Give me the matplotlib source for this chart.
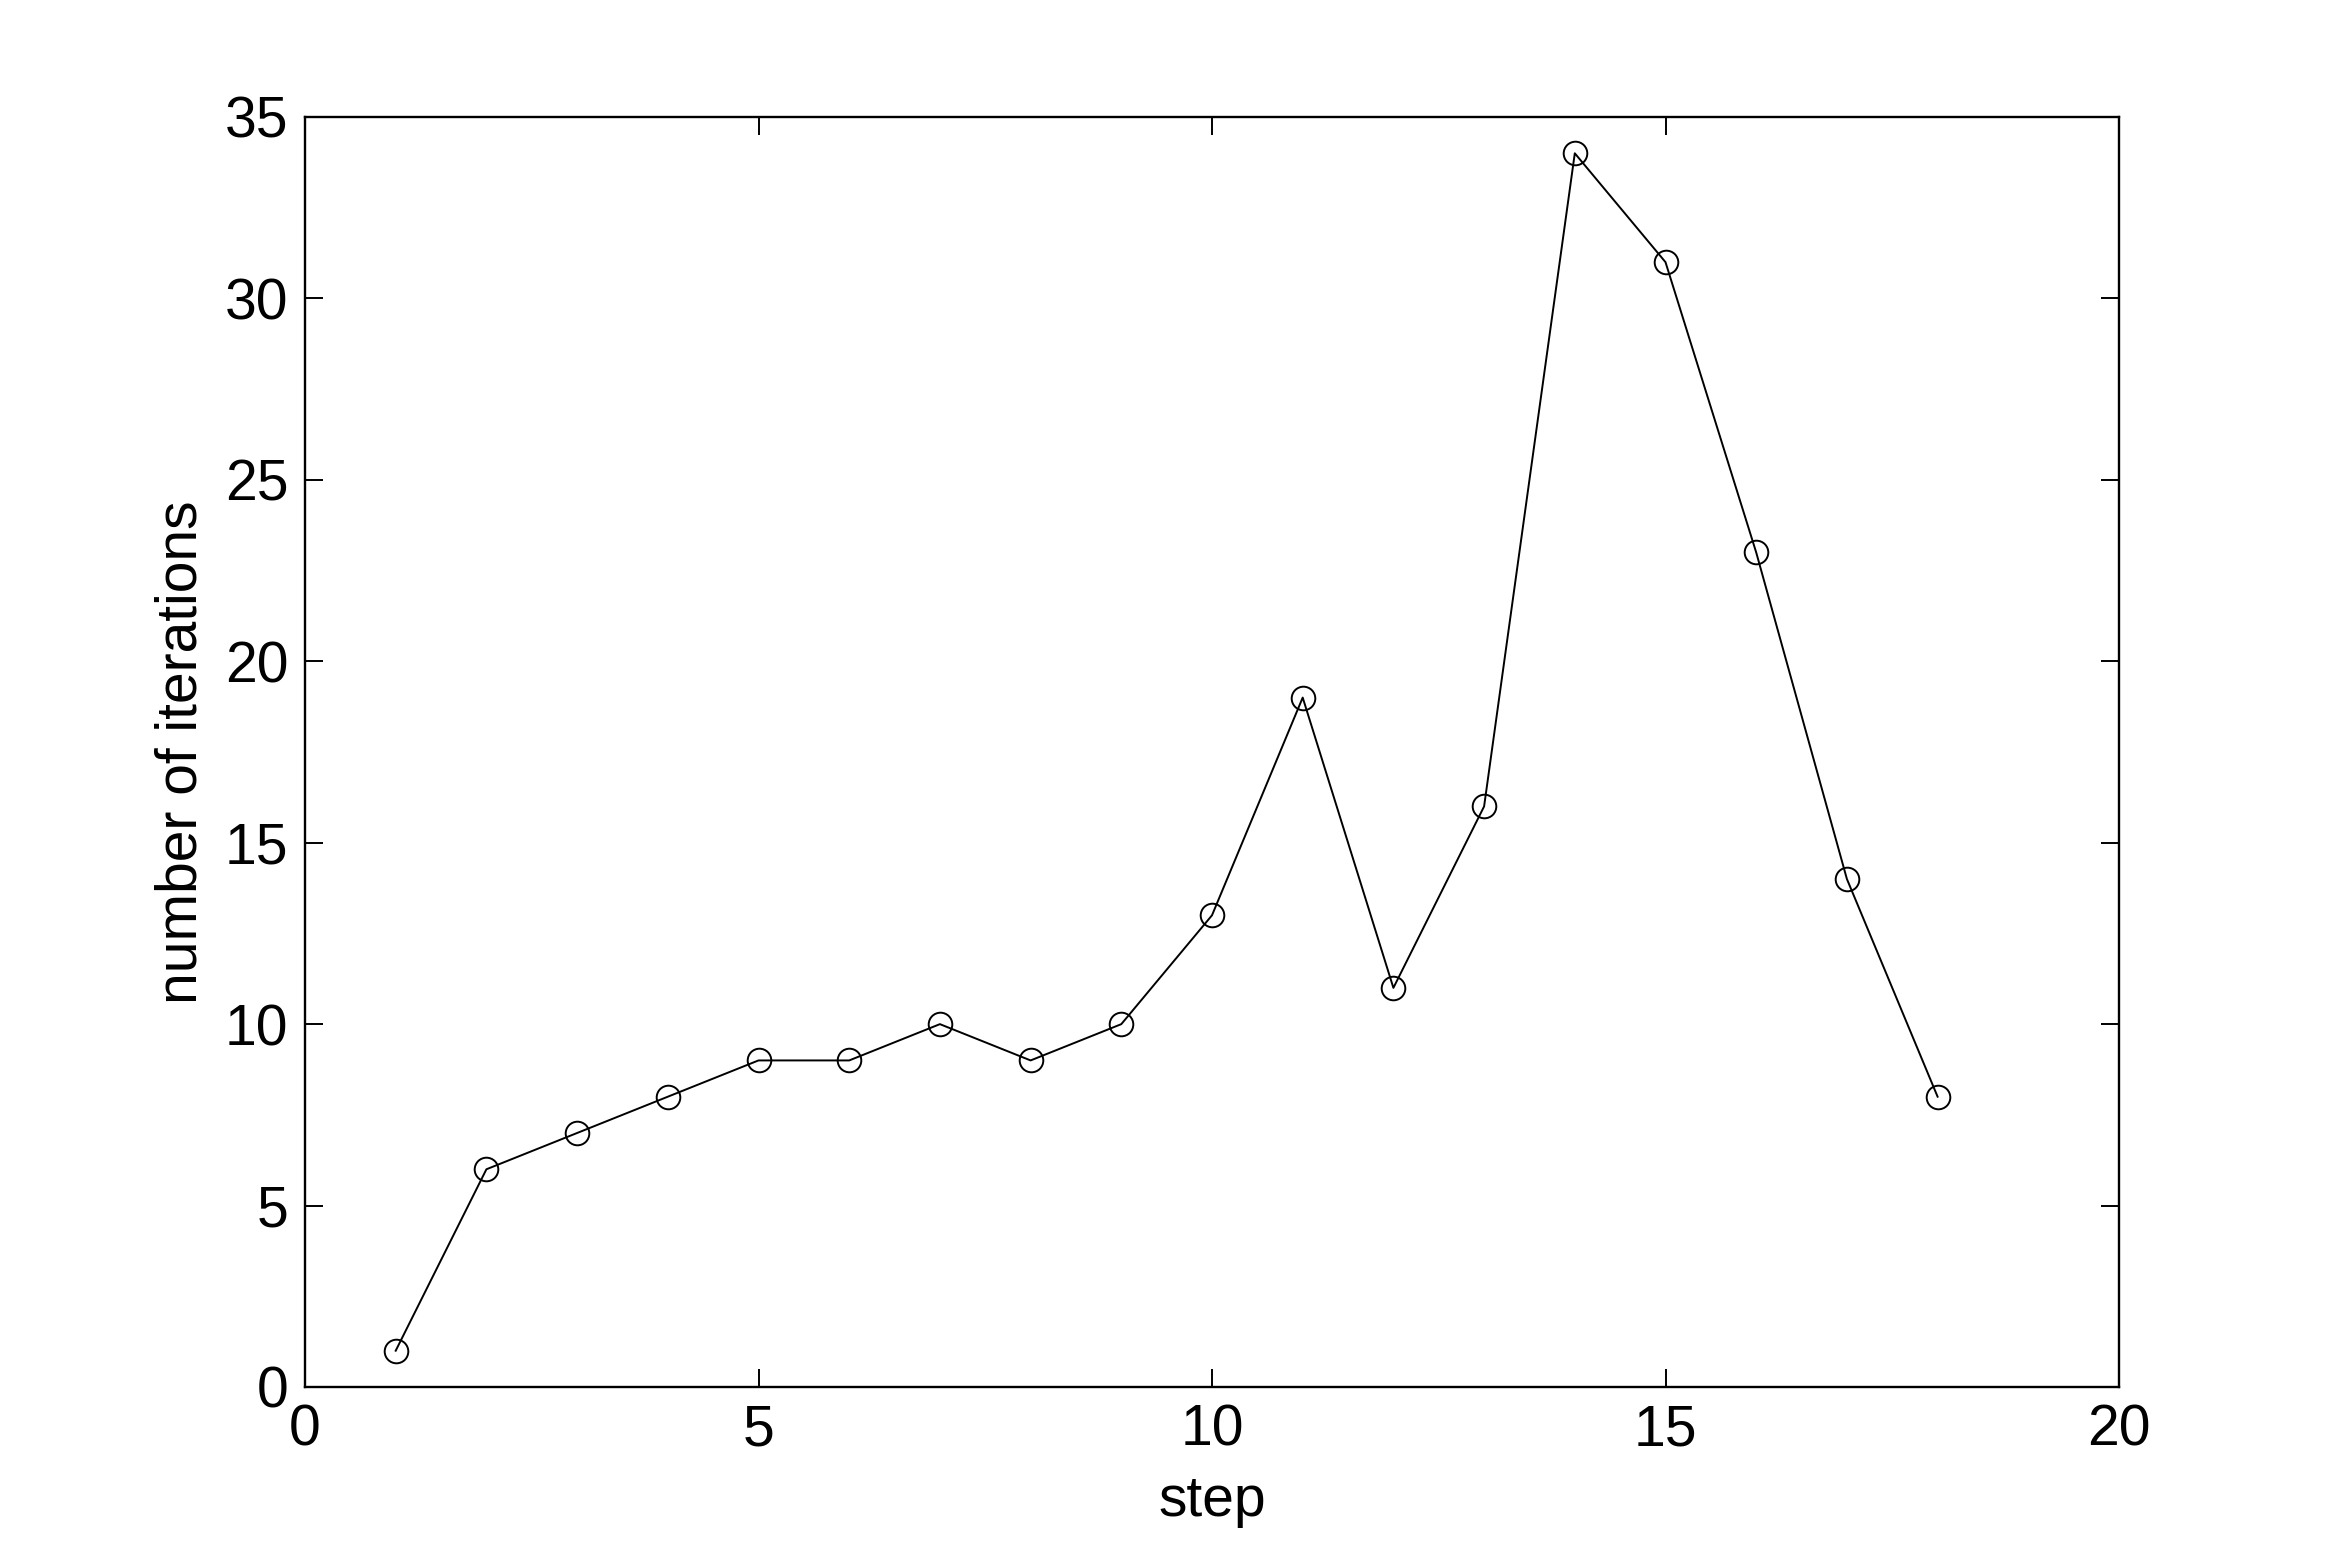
import matplotlib
matplotlib.use("Agg")
import matplotlib.pyplot as plt

# data
steps = list(range(1, 19))
iterations = [1, 6, 7, 8, 9, 9, 10, 9, 10, 13, 19, 11, 16, 34, 31, 23, 14, 8]

plt.rcParams['font.family'] = ['Liberation Sans', 'DejaVu Sans']

fig = plt.figure(figsize=(23.43, 15.6), dpi=100)
ax = fig.add_axes([305 / 2343, 1 - 1387 / 1560, (2119 - 305) / 2343, (1387 - 117) / 1560])

ax.plot(steps, iterations, color='black', linewidth=1.4,
        marker='o', markersize=17, markerfacecolor='none',
        markeredgecolor='black', markeredgewidth=1.4)

ax.set_xlim(0, 20)
ax.set_ylim(0, 35)
ax.set_xticks([0, 5, 10, 15, 20])
ax.set_yticks([0, 5, 10, 15, 20, 25, 30, 35])

ax.tick_params(direction='in', length=13, width=1.4, labelsize=41,
               top=True, right=True, pad=12)
for sp in ax.spines.values():
    sp.set_linewidth(1.7)

ax.set_xlabel('step', fontsize=41, labelpad=12)
ax.set_ylabel('number of iterations', fontsize=41, labelpad=12)

fig.savefig('out.png', dpi=100)
